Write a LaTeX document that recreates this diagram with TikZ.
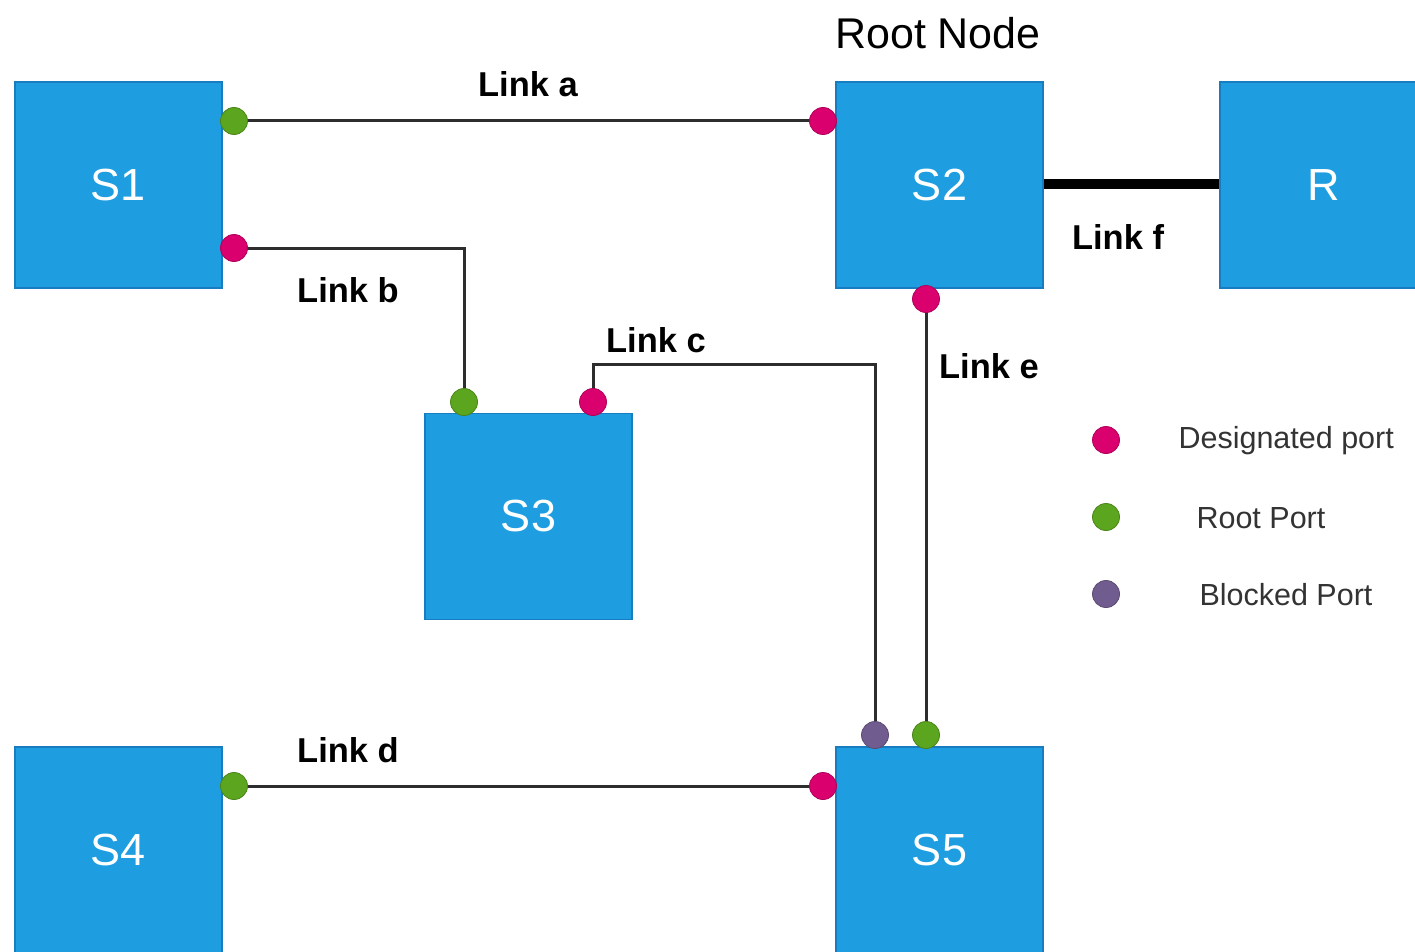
\documentclass[tikz,border=0pt]{standalone}
\usepackage{fontspec}
\setmainfont{Liberation Sans}
\usetikzlibrary{backgrounds}
\definecolor{switchblue}{RGB}{30,158,224}
\definecolor{switchedge}{RGB}{24,124,192}
\definecolor{desig}{RGB}{218,0,110}
\definecolor{rootp}{RGB}{92,165,30}
\definecolor{blocked}{RGB}{112,92,142}
\definecolor{wire}{RGB}{45,45,45}
\begin{document}
\begin{tikzpicture}[x=1pt,y=-1pt,
  switch/.style={draw=switchedge, line width=1.5pt, fill=switchblue,
    minimum width=207pt, minimum height=206pt, inner sep=0pt,
    text=white, font=\fontsize{45}{52}\selectfont},
  port/.style={circle, inner sep=0pt, minimum size=27pt,
    draw=#1!80!black, line width=0.8pt, fill=#1},
  link/.style={draw=wire, line width=3pt},
  lbl/.style={font=\bfseries\fontsize{34.5}{40}\selectfont, text=black},
  legtext/.style={font=\fontsize{30.5}{36}\selectfont, text=black!80, anchor=west}]
\useasboundingbox (0,0) rectangle (1415,952);
\clip (0,0) rectangle (1415,952);

% switches
\node[switch] (S1) at (118.5,185) {S1};
\node[switch] (S2) at (939.5,185) {S2};
\node[switch] (R)  at (1323.5,185) {R};
\node[switch] (S3) at (528.5,516.5) {S3};
\node[switch] (S4) at (118.5,850) {S4};
\node[switch] (S5) at (939.5,850) {S5};

% ports
\node[port=rootp]   (p1a) at (234,121) {};
\node[port=desig]   (p1b) at (234,248) {};
\node[port=desig]   (p2a) at (823,121) {};
\node[port=desig]   (p2e) at (926,299) {};
\node[port=rootp]   (p3b) at (464,402) {};
\node[port=desig]   (p3c) at (593,402) {};
\node[port=rootp]   (p4d) at (234,786) {};
\node[port=desig]   (p5d) at (823,786) {};
\node[port=blocked] (p5c) at (875,735) {};
\node[port=rootp]   (p5e) at (926,735) {};

% links
\begin{scope}[on background layer]
  \draw[link] (p1a.center) -- (p2a.center);
  \draw[link] (p1b.center) -| (p3b.center);
  \draw[link] (p3c.center) |- (735,364) coordinate (cbend) -| (p5c.center);
  \draw[link] (p4d.center) -- (p5d.center);
  \draw[link] (p2e.center) -- (p5e.center);
  \draw[draw=black, line width=10pt] (S2.east |- 0,184) -- (R.west |- 0,184);
\end{scope}

% labels
\node (rootlbl) at (938,33) {\fontsize{43}{50}\selectfont Root Node};
\node[lbl] (la) at (528,84) {Link a};
\node[lbl] (lb) at (348,290) {Link b};
\node[lbl] (lc) at (656,340) {Link c};
\node[lbl] (ld) at (348,750) {Link d};
\node[lbl] (le) at (989,366) {Link e};
\node[lbl] (lf) at (1118,237) {Link f};

% legend
\node[port=desig]   (kd) at (1106,440) {};
\node[port=rootp]   (kr) at (1106,517) {};
\node[port=blocked] (kb) at (1106,594) {};
\node[legtext] (td) at (1175,441) {Designated port};
\node[legtext] (tr) at (1193,518) {Root Port};
\node[legtext] (tb) at (1196,595) {Blocked Port};
\end{tikzpicture}
\end{document}
